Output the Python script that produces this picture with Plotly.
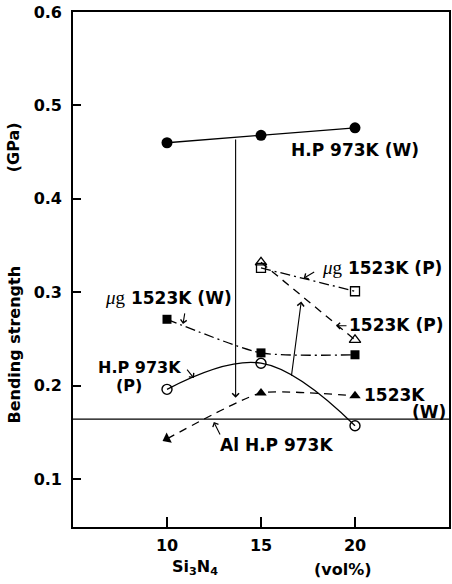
import plotly.graph_objects as go

# Si3N4 content (vol%)
si3n4 = [10, 15, 20]

# Bending strength (GPa) for each processing route
hp973_w = [0.460, 0.468, 0.476]       # H.P 973K (W)
hp973_p = [0.196, 0.224, 0.157]       # H.P 973K (P)
mg1523_w = [0.271, 0.235, 0.233]      # μg 1523K (W)
k1523_w = [0.143, 0.192, 0.189]       # 1523K (W)
si3n4_p = [15, 20]
mg1523_p = [0.326, 0.301]             # μg 1523K (P)
k1523_p = [0.332, 0.249]              # 1523K (P)
al_hp973 = 0.164                      # Al H.P 973K reference level

y_ticks = [0.1, 0.2, 0.3, 0.4, 0.5, 0.6]
x_ticks = [10, 15, 20]

BOLD = "DejaVu Sans"
SERIF = "Liberation Serif"
LW = 1.3

fig = go.Figure()

fig.add_trace(go.Scatter(
    x=si3n4, y=hp973_w, mode="lines+markers",
    line=dict(color="black", width=LW),
    marker=dict(symbol="circle", size=11, color="black")))

fig.add_trace(go.Scatter(
    x=si3n4, y=hp973_p, mode="lines+markers",
    line=dict(color="black", width=LW, shape="spline", smoothing=1.1),
    marker=dict(symbol="circle-open", size=10, color="black", line=dict(width=1.4))))

fig.add_trace(go.Scatter(
    x=si3n4, y=mg1523_w, mode="lines+markers",
    line=dict(color="black", width=LW, shape="spline", smoothing=0.6,
              dash="10px,4px,2px,4px"),
    marker=dict(symbol="square", size=9, color="black")))

fig.add_trace(go.Scatter(
    x=si3n4, y=k1523_w, mode="lines+markers",
    line=dict(color="black", width=LW, shape="spline", smoothing=0.5, dash="8px,6px"),
    marker=dict(symbol="triangle-up", size=10, color="black", angle=[243, 0, 0])))

fig.add_trace(go.Scatter(
    x=si3n4_p, y=mg1523_p, mode="lines+markers",
    line=dict(color="black", width=LW, dash="10px,4px,2px,4px"),
    marker=dict(symbol="square-open", size=9, color="black", line=dict(width=1.3))))

fig.add_trace(go.Scatter(
    x=si3n4_p, y=k1523_p, mode="lines+markers",
    line=dict(color="black", width=LW, dash="8px,6px"),
    marker=dict(symbol="triangle-up-open", size=10, color="black", line=dict(width=1.3))))

# Al H.P 973K level across the whole plot
fig.add_shape(type="line", xref="paper", x0=0, x1=1, yref="y", y0=al_hp973, y1=al_hp973,
              line=dict(color="black", width=LW))

anns = []


def label(x, y, text, size=17):
    anns.append(dict(x=x, y=y, xref="x", yref="y", text=text, showarrow=False,
                     xanchor="center", yanchor="middle",
                     font=dict(family=BOLD, size=size, color="black", weight="bold")))


mu = f"<span style='font-family:{SERIF};font-weight:normal;font-size:19px'><i>μ</i>g</span>"

label(20.0, 0.452, "H.P 973K (W)")
label(21.43, 0.326, mu + " 1523K (P)")
label(22.17, 0.265, "1523K (P)")
label(10.06, 0.294, mu + " 1523K (W)")
label(8.52, 0.219, "H.P 973K", size=16)
label(7.99, 0.200, "(P)", size=16)
label(22.12, 0.190, "1523K")
label(23.92, 0.172, "(W)")
label(15.82, 0.136, "Al H.P 973K")


def pointer(x, y, ax, ay):
    anns.append(dict(x=x, y=y, xref="x", yref="y", ax=ax, ay=ay, text="",
                     showarrow=True, arrowhead=4, arrowsize=1.1, arrowwidth=1.1,
                     arrowcolor="black", standoff=0, startstandoff=0))


pointer(17.27, 0.315, 12, -7)
pointer(18.99, 0.264, 12, 0)
pointer(10.85, 0.266, 2, -12)
pointer(11.43, 0.208, -8, -10)
pointer(12.49, 0.161, 7, 14)

# Transition arrows between processing routes
for (x0, y0, x1, y1) in [(13.65, 0.465, 13.65, 0.187), (16.61, 0.209, 17.14, 0.290)]:
    anns.append(dict(x=x1, y=y1, ax=x0, ay=y0, xref="x", yref="y", axref="x", ayref="y",
                     text="", showarrow=True, arrowhead=4, arrowsize=1.2, arrowwidth=1.1,
                     arrowcolor="black", standoff=0, startstandoff=0))

# Axis titles
title_font = dict(family=BOLD, size=16, color="black", weight="bold")


def title(x, y, text, angle=0):
    anns.append(dict(x=x, y=y, xref="paper", yref="paper", text=text, textangle=angle,
                     xanchor="center", yanchor="middle", showarrow=False, font=title_font))


title(-0.156, 0.738, "(GPa)", -90)
title(-0.156, 0.355, "Bending strength", -90)
title(0.325, -0.078, "Si<sub>3</sub>N<sub>4</sub>")
title(0.717, -0.082, "(vol%)")

fig.update_layout(
    width=452, height=584,
    margin=dict(l=73, r=1, t=12, b=57),
    paper_bgcolor="white", plot_bgcolor="white",
    showlegend=False,
    annotations=anns,
    xaxis=dict(range=[5, 25], tickvals=x_ticks, ticks="inside", ticklen=10, tickwidth=1.5,
               tickcolor="black", showgrid=False, zeroline=False, showline=True,
               linecolor="black", linewidth=1.6, mirror=True, ticklabelstandoff=3,
               tickfont=dict(family=BOLD, size=16, color="black", weight="bold")),
    yaxis=dict(range=[0.0486, 0.6], tickvals=y_ticks, tickformat=".1f", ticks="inside",
               ticklen=8, tickwidth=1.5, tickcolor="black", showgrid=False, zeroline=False,
               showline=True, linecolor="black", linewidth=1.6, mirror=True,
               ticklabelstandoff=6,
               tickfont=dict(family=BOLD, size=16, color="black", weight="bold")),
)

fig.write_html("out.html")
